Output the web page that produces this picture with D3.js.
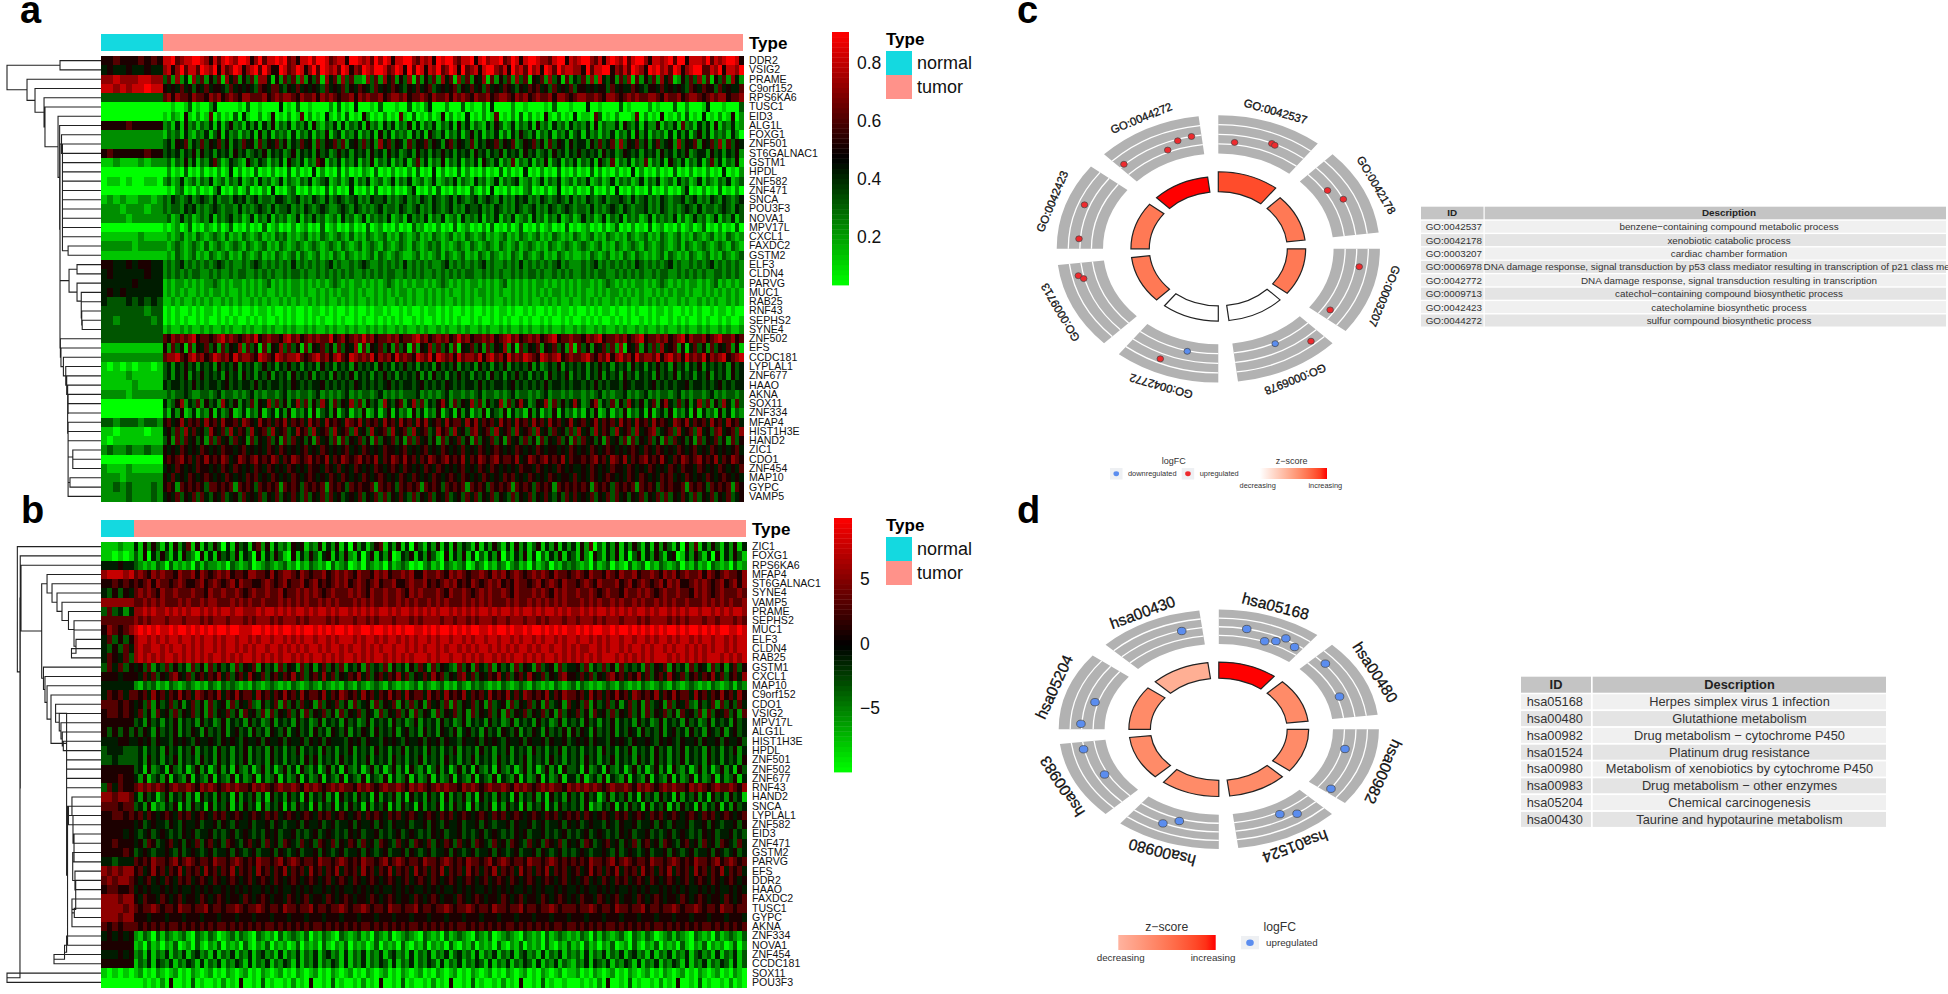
<!DOCTYPE html>
<html>
<head>
<meta charset="utf-8">
<script src="https://cdn.jsdelivr.net/npm/d3@7"></script>
<style>
html, body { margin: 0; padding: 0; background: #fff; overflow: hidden; }
text { font-family: "Liberation Sans", sans-serif; }
</style>
</head>
<body>
<div class="chart"></div>
<script>
// panel a: genes in row order, one digit per sample (0 = lowest, 9 = highest)
const genesA = ['DDR2','VSIG2','PRAME','C9orf152','RPS6KA6','TUSC1','EID3','ALG1L','FOXG1','ZNF501','ST6GALNAC1','GSTM1','HPDL','ZNF582','ZNF471','SNCA','POU3F3','NOVA1','MPV17L','CXCL1','FAXDC2','GSTM2','ELF3','CLDN4','PARVG','MUC1','RAB25','RNF43','SEPHS2','SYNE4','ZNF502','EFS','CCDC181','LYPLAL1','ZNF677','HAAO','AKNA','SOX11','ZNF334','MFAP4','HIST1H3E','HAND2','ZIC1','CDO1','ZNF454','MAP10','GYPC','VAMP5'];
const normalA = ['5565556565','4544544544','7787778877','8878788988','3333333333','0000000000','0000000000','5555655555','2222222222','2222222222','5655555655','1121112122','0000000000','0110100110','0000000000','1212112212','2221222122','2222122222','0000000000','1111112111','2222212222','1111111111','5544545544','4544444544','4444454444','4545444444','4333434343','3333333233','3323333323','3333333333','3333333333','1111111111','2222222222','1010101101','1111211111','1111121111','2222122222','0000000000','0000000000','3323332332','1101111011','1011111111','2322322322','0000000000','2111211111','2221222222','2232322232','2222322232'];
const tumorA = [
'88967889987586898799857968898967588979986788599878697985889976878598997688958978896798589987768995878997685898796899758878969958887968789985',
'78579688698795867985789697559867985796987869857698799867985969858796798596785899768597869785986978877596889957686987598978698578996687958879',
'36272417362536174625362774152636272536174627362217362746253716253627461736254716253627361546273516243627284352637162536274612536372615362742',
'54546453546455436454543654664354645454364546354654364546543546456345456354645364546543546564536454635545455364544654355464545436546553645446',
'67576657665767567657766675676776576675767656675767667567767566765766757676576675677657675676675776567766765776567676677657667567765676775667',
'00100130100240000010300100004010300100002030104000103000100301024000200030100204000020010000103000100040010000301000020100030020001400010003',
'10210510201602010304100201501020160201041020301052010201061030102015020104010201601020302010510201040110630102000160201050102030104010201502',
'23141523132414135231424142513241324152132414132415231424132514132413241524132142531241324152314231423241513224153241422513241623142415132412',
'13231421324135142313241524132314132413251341324132415241323142415324132413524132413142532413241324134142313241324152413231414241352413231420',
'34254624363546352436452635463524364526354636245363527463542635463542563543624354635462354635263542534425363462735463524634527354625463726354',
'34342435253424342534234352434235243425342353424342534253423425342435342434253424352434253423425342435343425342354342434253424352344253424352',
'23132524132463124321532431324153241326513241324132513241324136241325132413241532413261324132513413241324153261324132613241532413241362413251',
'02010301020102014020103010201030201040201030201021030102010203010402010302010201030201040102010301020103020102010402010201030102010201040102',
'23124123132412313241231423124132132412341231241324123124132412312412324132142312413234123124132412313241231241323124132412314231241321324123',
'01023010201024010201301020401023010201030201040102030102010240102030102010310204010201023010201401020103010204010201030102010240102010301020',
'32432342343242332434234233244323423243242343234232433423234232432432342432342343242324342324323432423243234233432423423243233423423243243234',
'32332434232343233242323432423342324323432234324323234233243234232432342324334232432324323423243234323324232343243233423243232343242332343243',
'23124231232413234231241324132312413242312314231241323241231423241324123142324132413241231423132412312423124132413231241323241312423124132413',
'10120130102102013010201030120102012010301201020103012010201031201020103012010203010201301020120103010120102013010201030120102012013010201030',
'12123121321232131213212312132312123121321232131213212312132123121321231213212312123121321231213212132123121321213212312132123121321231213212',
'21232123213123212321321231213212321232123213212312321321232132123231212321321232132123123212132123212321231213212321321232123132123212321321',
'12132123121321231213212312132123132123121321321212313212321123121231321231213213212132132123121321211213212312132132121231321213212312132123',
'23234232323234323223234323232324232323234232232343223232324232323223423232323423223232423232323423222323423232323243232323423223232342323232',
'23232323322323223233223232322323323223232323232232323233223232322323232323322323232232323323223232322323233223232323223233223232323223323232',
'12122121212232121221212123121212212121212321212212121232121212212123212121221212123121212122121212121221212321212122121232121212212123121212',
'12121211212122121121212121121212212112121212212121121212122121121212121121212212121121212121212212121211212122121212112121212212112121212121',
'11212112121211212121121212112121211212121121212112121211212121121212112121211212112121212112121211211212121121212112121212112121121212112121',
'01010010101101001010010110100101001011010100101001011010010100101101010010100101011010010100101011010010101101001010010110100101010010110100',
'01010100101001010100101010010101001010100101001010010101010010100101010100101001010100101001010010100101010010101001010100101010010100101001',
'12112121121211212112121121211212112121121211212112121211212112121121211212112121121211212112121121121211212112121121211212112121121211212112',
'65767678566567867656768567665786756767668567567686756676756678675676756867566767567867567675678566766576785667675678566767567857667567866756',
'52635162546352635472635162547363516254635263547162546352635162547363526154635263547251635462546352716352546362715462536374562514635263546251',
'67786578675687675867765876587677865678675786587676857675867658768587675867768578675867687658767856766786576857867586776857867586768576785678',
'34243534243425343524342353424353424342534243425343425342435342434253435243425342435243435242343524343424353424342534243534253424352434342534',
'34243524353434253425342435243425343524342534352434243534243435242534243534243425342435342434253435243424352434253424342534352434243524342534',
'43443435343443453434435343443435434344534343435434343453434434534343543434435343443453434343534434344343534344354344345343434453443434534344',
'23233432233234233232342323323423233234232323423233234232323334232323423323234233232342332323423323233232342323342323423233234232332342323323',
'42357243625342743524362547363524736253742635473625342743562473624357426354736253472635742354726353474235724362537435246257436352473625374263',
'31425124132514235124132513414251324151342513413251241351423152413251341524132514325142315241325142313142512413251324151342513241514231524132',
'56457465647564755647654756465746564756475654765746564756475647574564756647574656475647564756475645745645746564756475647565476574656475647564',
'45363746453754637465374563745634756374563745637453745637456374563475637453674563745637456374536453637453746537456374567345637456374536745637',
'35263645352636453645263546352636453526453626354635263546352636453526354635263546352645363526354635263645352645362635463526364535263546352635',
'54546545465454655456454546546545456454654545645465454655456454564546545464546545654546545465455454654546545654545654654654546545645465454564',
'56567564657565764576567565764657656756574657656756574657657564657656756574657656756657457656756574655656756476574656756575465765675657465765',
'45465454655454654654546546545465454655465464546545465456546545465465454564546546545454655465454654544546545465546545465454654655465454654546',
'54645465456545465454656454654546545654546546545465456545465465454654565465454654546564546545465455464546545654546546545465645465454654565454',
'56526565653665656265653656562656536565626565365655626565365656265653656562656536565626565365652656565652656536565626565365655626565365656265',
'45463546364354634536454635463546436354636453454635463635464363546354634536463546354363546354643536464546354636453546354636354643635463546345'
];

// panel b
const genesB = ['ZIC1','FOXG1','RPS6KA6','MFAP4','ST6GALNAC1','SYNE4','VAMP5','PRAME','SEPHS2','MUC1','ELF3','CLDN4','RAB25','GSTM1','CXCL1','MAP10','C9orf152','CDO1','VSIG2','MPV17L','ALG1L','HIST1H3E','HPDL','ZNF501','ZNF502','ZNF677','RNF43','HAND2','SNCA','LYPLAL1','ZNF582','EID3','ZNF471','GSTM2','PARVG','EFS','DDR2','HAAO','FAXDC2','TUSC1','GYPC','AKNA','ZNF334','NOVA1','ZNF454','CCDC181','SOX11','POU3F3'];
const normalB = ['111211','110101','444544','788878','556565','435354','777777','363424','666666','576567','463535','435364','465463','364635','555455','444444','465646','666565','566565','555555','535353','444554','344433','334333','555555','555655','364655','776776','666566','556656','555555','555545','556555','555565','443444','767677','676776','566556','777677','777767','777677','656566','454545','555555','444545','555555','101010','000000'];
const tumorB = [
'41525314152461514253041534156251423154513251425140524135614251405314251415243151425314152413514251424152603142514253141525314052614253142514',
'31504253141532051415342514305142531051425314514252140351425014351425310514251403142503142514031425143152053142514035142531450142531405142531',
'32121320312120313221203212301232123120213212031230120321203123201023120321230132021320231203123021323212031230210312302132123021312032120312',
'67657676657667576567675665776657567765765667567676576657675667675576676576765667657675676567676576656765766576576675667657675676675765676657',
'65675766567655675676567576655676567566756756567675676567566755676675656767565765676756576656756765766567657666756756765675767556767656756757',
'67676576676667665766766765676676675667676765676667676576676676576766676576676567676676576667676576766766765676657667676567667665767656766676',
'66767676667676676776667676766766676767676676767666767676676676767667676766676767676667676676767676766676767667676676766767676676667676767667',
'77878778787878878787887887778788787878878788787887878787887878878787878878787878878788787887878878787787878878787878878788787878878878787887',
'76767776777677767677767776767776767776767777676777677676777677767677776776776767776776777677676777677677767677767776767777676767776776777676',
'89898988989989898989989988899898989989899898989989889989989898998898989989898998898998988989989898988989899889899898989898998989989898998898',
'78878787887887878878788788787887887878788788787888787887878878787887878878878788788788787887878878788788787878878878878788787887878878878788',
'78778878788787878878788787878878878787878878788787887878788788787878878788787878878787878878788788787877887878878788787887878878787878878788',
'78787878878787878788787878878787878878787887878788787878878787878887878878878787887878788787878878787878787888787878787888787878787888787878',
'45362436353426352635342635462534263542635246353624352634362534253642635432635264362534263542634526344536243635263434263546253426354263524635',
'54646354675463564657463564754635646574635647463546574635646574635464756354674635465746356475463546755464635467564657463564754635646574635647',
'21323121321232121321323212132123212132123213212132132123213212123132123121321323212132123213212132123132121232132121321232132123212132123132',
'65647564657564765657465756647564657564756657465765647564657564756647564756574656475657464765657465766564756465756476565746575664756465756475',
'45362534635246352634526354632534626353645263546352634526354625363526453626354635263452635463526345264536253463524635263452635463253462635364',
'46352645363546352635463526453626354635263546352635463542635463526354263546352635463526354635463526354635264536354635263546352645362635463526',
'34253424352434253423524342534235243425342352434253423524342534235243425342352434253423524342534235243425342435243425342352434253423524342534',
'53542534352435425343524534253425435245342534254352435425343524534253425435245342534254352435425343525354253435243542534352453425342543524534',
'45453544354543544543545435445354453544535453544435453544354543544535453544354453545435445354453544534545354435454354454354543544535445354453',
'34243425342435243425342435243425342435243425342435243425342435243425342435243425342435243425342435243424342534243524342534243524342534243524',
'34253424352434253425342435243425342434253524342534243524342534243524342534243524342534243524342534243425342435243425342534243524342534243425',
'34152341532413524135241532413524135241532413524153241352413524153241352413524153241532413524135241533415234153241352413524153241352413524153',
'42513425143251432514325142351423514235142351432514325143251423514235142351432514325143251423514235144251342514325143251432514235142351423514',
'67676765676676576765676766576765676676576765676766576765676676576765676766576765676676576765676766576767676567667657676567676657676567667657',
'42534135243524153425341524352415342534152435241534253415243524153425341524352415342534152435241534253425341352435241534253415243524153425341',
'34251324351425341524351425341524351425341524351425341524351425341524351425341524351425341524351425343425132435142534152435142534152435142534',
'56465456546564565465645654565465645654565465645654564656546564565456546564565456546564565456546564565646545654656456546564565456546564565456',
'45345443543544534453543544534453543445354453453445354453543544534453543544534453543445354453453445354534544354354453445354354453445354344535',
'43453454343545344534345345434354534453434534543435453445343453454343545344534345345434354534453434534345345434354534453434534543435453445343',
'45365345645354635645365435645364536543645365463546536453654364536546354653645365436453654364536546354536534564535463564536543564536453654364',
'34543445435345434534453543453445354345344535434534453543453445354345344535434534453543453445354345343454344543534543453445354345344535434534',
'65657665675676566576656765657665675676566576656765657665675676566576656765657665675676566576656765656565766567567656657665676565766567567656',
'56457564657465647564657465647564657465647564657465647564657465647564657465647564657465647564657465645645756465746564756465746564756465746564',
'54564546546564565465456545645654654565456545645654654565456545645654654565456545645654654565456545645456454654656456546545654564565465456545',
'45454454545445454544545454544545454454545445454544545454544545454454545445454544545454544545454454544545445454544545454454545454454545445454',
'54655465456455465456545546545654554654564554654565455465456545546545654554654565455465456455465456545465546545645546545654554654565455465456',
'65667656657665667566566765667656657665667566566765667656657665667566566765667656657665667566566765666566765665766566756656676566765665766566',
'55545554555455545554555455545554555455545554555455545554555455545554555455545554555455545554555455545554555455545554555455545554555455545554',
'65656565665656565656656565656566565656565665656565656656565656566565656565665656565656656565656566566565656566565656565665656565656656565656',
'21320313212310321320123132103212031232130213210321231203213012321032120312321032130123210321203123212132031321231032132012313210321203123213',
'12031202130120310213021203102130212013021203102130212013021203102130212031021302120310213021203102131203120213012031021302120310213021201302',
'23141324132413423141324132413423141324132413423141324132413423141324132413423141324132413423141324132314132413241342314132413241342314132413',
'13241432413243141324132431413241324314132413243141324132431413241324314132413243141324132431413241321324143241324314132413243141324132431413',
'12010210120102101201021012010210120102101201021012010210120102101201021012010210120102101201021012011201021012010210120102101201021012010210',
'00101020500103010010201050010301001020105001030100102010500103010010201050010301001020105001030100100010102050010301001020105001030100102010'
];

const typeColors = {normal: '#14d9e0', tumor: '#ff928a'};
const typeNames = ['normal', 'tumor'];

// dendrograms: [merge height, upper child, lower child], 0 is a leaf.
// chain() stacks leaves one under the other, most rows in these trees merge that way
const chain = (heights, end) => heights.reduceRight((acc, h) => [h, 0, acc], end);

const upperA = chain([42, 41, 41, 41, 41, 41, 41, 41, 41, 41, 41, 41], [35, 0, 0]);
const elfA = [34, [25.5, 0, 0], chain([25.5, 21, 21, 20.5], [20, 0, 0])];
const lowerA = chain([43.2, 42.6, 40, 37.5, 36.5, 35.5, 35, 35.5, 35.5, 35, 35, 35],
  [35, [30, 0, [30, 0, 0]], [35, [33, 0, 0], 0]]);
const treeA = [100, [43.6, 0, 0],
  chain([78.7, 70.2, 60.6, 59.6, 45.7, 44], [43.6, upperA, [43.6, elfA, lowerA]])];

const groupB1 = chain([57.4, 52.1, 46.8, 41.5, 34.6, 28.7, 28.7, 26.6], [31.4, 0, 0]);
const upperB = chain([48.3, 44.4, 42.6, 41.2], [40.1, 0, 0]);
const middleB = chain([30.9, 34.6, 29.8, 29.8, 28.7, 28.7, 30.1, 30.1, 27.7, 26.9, 26.9],
  [30.9, 0, [30.9, [28.4, 0, 0], 0]]);
const tailB = chain([36.6, 38.8], [50, 0, 0]);
const lowerB = chain([36.6, 36.6, 36.6, 36.6], [35.6, middleB, tailB]);
const groupB2 = chain([61.2, 59.6, 57.4, 53.2], [36.6, upperB, lowerB]);
const treeB = [89, 0, [85.9, 0, [86.2, [85.1, 0, [63.1, groupB1, groupB2]], [100, 0, 0]]]];

// enrichment circles
const goIds = ['GO:0042537','GO:0042178','GO:0003207','GO:0006978','GO:0042772','GO:0009713','GO:0042423','GO:0044272'];
const goDesc = ['benzene\u2212containing compound metabolic process','xenobiotic catabolic process','cardiac chamber formation','DNA damage response, signal transduction by p53 class mediator resulting in transcription of p21 class mediator','DNA damage response, signal transduction resulting in transcription','catechol\u2212containing compound biosynthetic process','catecholamine biosynthetic process','sulfur compound biosynthetic process'];
const goZ = [0.86, 0.68, 0.68, 0, 0, 0.68, 0.68, 1];
const goBar = [1, 0.76, 0.76, 0.76, 0.76, 0.76, 0.76, 0.76];
const goGenes = [
  [[.19,1.24,'up'],[.6,1.97,'up'],[.64,1.9,'up']],
  [[.32,1.27,'up'],[.51,2.02,'up']],
  [[.23,2.36,'up'],[.88,1.62,'up']],
  [[.14,2.58,'up'],[.49,1.1,'down']],
  [[.37,1.08,'down'],[.62,2.58,'up']],
  [[.84,2.45,'up'],[.79,2.08,'up']],
  [[.13,2.12,'up'],[.57,2.48,'up']],
  [[.06,2.06,'up'],[.58,1.24,'up'],[.73,1.85,'up'],[.89,2.0,'up']]
];
const hsaIds = ['hsa05168','hsa00480','hsa00982','hsa01524','hsa00980','hsa00983','hsa05204','hsa00430'];
const hsaDesc = ['Herpes simplex virus 1 infection','Glutathione metabolism','Drug metabolism \u2212 cytochrome P450','Platinum drug resistance','Metabolism of xenobiotics by cytochrome P450','Drug metabolism \u2212 other enzymes','Chemical carcinogenesis','Taurine and hypotaurine metabolism'];
const hsaZ = [1, 0.6, 0.6, 0.6, 0.6, 0.6, 0.6, 0.42];
const hsaBar = [0.9, 0.9, 0.9, 0.9, 0.9, 0.9, 0.9, 0.9];
const hsaGenes = [
  [[.31,1.99,'up'],[.56,1.06,'up'],[.68,1.46,'up'],[.76,2.15,'up'],[.91,1.69,'up']],
  [[.145,2.08,'up'],[.66,1.24,'up']],
  [[.31,1.28,'up'],[.93,2.03,'up']],
  [[.27,2.02,'up'],[.44,1.28,'up']],
  [[.47,1.28,'up'],[.63,2.05,'up']],
  [[.45,1.31,'up'],[.89,2.06,'up']],
  [[.08,2.08,'up'],[.43,1.29,'up']],
  [[.77,1.95,'up']]
];

const W = 1948, H = 994;
const svg = d3.select('.chart').append('svg')
  .attr('width', W).attr('height', H).style('display', 'block');

function heatPanel(o) {
  const g = svg.append('g');
  const y = d3.scaleBand().domain(o.genes).range([o.top, o.bottom]);
  const colorBar = d3.scaleLinear().domain(o.domain).range([o.barBottom, o.barTop]);
  const mid = (o.domain[0] + o.domain[1]) / 2;
  const color = d3.scaleLinear().domain([o.domain[0], mid, o.domain[1]]).range(['#00ff00', '#000000', '#ff0000']);
  const val = d3.scaleLinear().domain([0, 9]).range(o.domain);

  // annotation bar
  g.append('rect').attr('x', o.left).attr('y', o.annTop).attr('width', o.split - o.left).attr('height', o.annH).attr('fill', typeColors.normal);
  g.append('rect').attr('x', o.split).attr('y', o.annTop).attr('width', o.right - o.split).attr('height', o.annH).attr('fill', typeColors.tumor);
  g.append('text').attr('x', o.right + 6).attr('y', o.annBase).attr('font-size', 17).attr('font-weight', 700).text('Type');

  // cells
  const cells = g.append('g').style('filter', 'blur(0.5px)').attr('shape-rendering', 'crispEdges');
  o.genes.forEach((gene, i) => {
    [[o.normal[i], o.left, o.split], [o.tumor[i], o.split, o.right]].forEach(([row, x0, x1]) => {
      const x = d3.scaleLinear().domain([0, row.length]).range([x0, x1]);
      cells.append('g').selectAll('rect').data(row.split('')).join('rect')
        .attr('x', (d, j) => x(j))
        .attr('y', y(gene))
        .attr('width', (d, j) => x(j + 1) - x(j) + 0.5)
        .attr('height', y.bandwidth() + 0.5)
        .attr('fill', d => color(val(+d)));
    });
  });

  // row labels
  g.append('g').attr('transform', `translate(${o.right},0)`)
    .call(d3.axisRight(y).tickSize(0).tickPadding(6))
    .call(a => a.select('.domain').remove())
    .selectAll('text').attr('font-size', 10.6).attr('font-family', '"Liberation Sans"').attr('fill', '#111');

  // dendrogram
  const dx = d3.scaleLinear().domain([0, 100]).range([o.left, 7]);
  const root = d3.hierarchy(o.tree, d => Array.isArray(d) ? [d[1], d[2]] : null);
  const leaves = root.leaves();
  leaves.forEach((l, i) => { l.py = y(o.genes[i]) + y.bandwidth() / 2; });
  root.eachAfter(n => { if (n.children) n.py = (n.children[0].py + n.children[1].py) / 2; });
  const hx = n => n.children ? dx(n.data[0]) : o.left;
  const p = d3.path();
  root.each(n => {
    if (!n.children) return;
    const [a, b] = n.children;
    p.moveTo(hx(a), a.py); p.lineTo(hx(n), a.py); p.lineTo(hx(n), b.py); p.lineTo(hx(b), b.py);
  });
  g.append('path').attr('d', p.toString()).attr('fill', 'none').attr('stroke', '#222').attr('stroke-width', 1.1);

  // colour bar, 50 steps like pheatmap
  const steps = d3.range(50).map(i => o.domain[0] + (i + 0.5) * (o.domain[1] - o.domain[0]) / 50);
  const stepH = (o.barBottom - o.barTop) / 50;
  g.append('g').selectAll('rect').data(steps).join('rect')
    .attr('x', o.barX).attr('width', o.barW)
    .attr('y', d => colorBar(d) - stepH / 2).attr('height', stepH + 0.4)
    .attr('fill', d => color(d));
  g.append('g').attr('transform', `translate(${o.barX + o.barW},0)`)
    .call(d3.axisRight(colorBar).tickValues(o.ticks).tickFormat(d3.format(o.fmt)).tickSize(0).tickPadding(8))
    .call(a => a.select('.domain').remove())
    .selectAll('text').attr('font-size', 17.5).attr('font-family', '"Liberation Sans"').attr('fill', '#111');

  // type legend
  g.append('text').attr('x', 886).attr('y', o.legBase).attr('font-size', 17).attr('font-weight', 700).text('Type');
  const ly = d3.scaleBand().domain(typeNames).range([o.legTop, o.legTop + 48]);
  g.append('g').selectAll('rect').data(typeNames).join('rect')
    .attr('x', 886).attr('width', 26).attr('y', d => ly(d)).attr('height', ly.bandwidth())
    .attr('fill', d => typeColors[d]);
  g.append('g').selectAll('text').data(typeNames).join('text')
    .attr('x', 917).attr('y', d => ly(d) + ly.bandwidth() / 2).attr('dy', '.35em')
    .attr('font-size', 18).attr('fill', '#111').text(d => d);
}

heatPanel({
  genes: genesA, normal: normalA, tumor: tumorA, tree: treeA,
  left: 101, split: 163, right: 743, top: 56, bottom: 501,
  annTop: 34, annH: 17, annBase: 49,
  barX: 832, barW: 17, barTop: 32, barBottom: 285, domain: [0.034, 0.907], ticks: [0.2, 0.4, 0.6, 0.8], fmt: '.1f',
  legBase: 45, legTop: 51
});
heatPanel({
  genes: genesB, normal: normalB, tumor: tumorB, tree: treeB,
  left: 101, split: 134, right: 746, top: 542, bottom: 987,
  annTop: 520, annH: 17, annBase: 535,
  barX: 834, barW: 18, barTop: 518, barBottom: 772, domain: [-9.96, 9.73], ticks: [-5, 0, 5], fmt: 'd',
  legBase: 531, legTop: 537
});

function circlePanel(o) {
  const g = svg.append('g');
  const ang = d3.scaleLinear().domain([0, 8]).range([0, 2 * Math.PI]);
  const span = 38 * Math.PI / 180;
  const R = 1000;
  const rLfc = d3.scaleLinear().domain([0, 4]).range([0.7115, 0.9975]);
  const rBar = d3.scaleLinear().domain([0, 1]).range([0.426, 0.575]);
  const zCol = d3.scaleLinear().domain([0, 1]).range(['#ffffff', '#ff0000']).interpolate(d3.interpolateLab);
  const polar = (a, r) => [o.cx + o.rx * r * Math.sin(a), o.cy - o.ry * r * Math.cos(a)];
  const plane = g.append('g').attr('transform', `translate(${o.cx},${o.cy}) scale(${o.rx / R},${o.ry / R})`);
  const arc = d3.arc();

  o.ids.forEach((id, i) => {
    const a0 = ang(i), a1 = a0 + span;
    plane.append('path')
      .attr('d', arc({innerRadius: rLfc(0) * R, outerRadius: rLfc(4) * R, startAngle: a0, endAngle: a1}))
      .attr('fill', '#b2b2b2');
    [1, 2, 3].forEach(v => {
      plane.append('path')
        .attr('d', arc({innerRadius: rLfc(v) * R, outerRadius: rLfc(v) * R, startAngle: a0, endAngle: a1}))
        .attr('fill', 'none').attr('stroke', '#fff').attr('stroke-width', 1.3)
        .attr('vector-effect', 'non-scaling-stroke');
    });
    plane.append('path')
      .attr('d', arc({innerRadius: rBar(0) * R, outerRadius: rBar(o.bar[i]) * R, startAngle: a0, endAngle: a1}))
      .attr('fill', zCol(o.z[i])).attr('stroke', '#222').attr('stroke-width', 1.2)
      .attr('vector-effect', 'non-scaling-stroke');

    g.append('g').selectAll('ellipse').data(o.genes[i]).join('ellipse')
      .attr('cx', d => polar(a0 + d[0] * span, rLfc(d[1]))[0])
      .attr('cy', d => polar(a0 + d[0] * span, rLfc(d[1]))[1])
      .attr('rx', o.dotX).attr('ry', o.dotY)
      .attr('fill', d => d[2] === 'up' ? o.upCol : '#5b8def')
      .attr('stroke', '#444').attr('stroke-width', 0.7);

    const am = a0 + span / 2;
    const [tx, ty] = polar(am, 1.085);
    const rot = Math.atan2(o.ry * Math.sin(am), o.rx * Math.cos(am)) * 180 / Math.PI;
    g.append('text').attr('transform', `translate(${tx},${ty}) rotate(${rot})`)
      .attr('text-anchor', 'middle').attr('dy', '.35em')
      .attr('font-size', o.labelSize).attr('fill', '#111')
      .attr('stroke', '#111').attr('stroke-width', 0.3).text(id);
  });
}

circlePanel({cx: 1218.3, cy: 248.8, rx: 162, ry: 134, ids: goIds, z: goZ, bar: goBar, genes: goGenes, dotX: 3.3, dotY: 3, upCol: '#ee2a2e', labelSize: 11.4});
circlePanel({cx: 1218.8, cy: 729.3, rx: 160.5, ry: 120, ids: hsaIds, z: hsaZ, bar: hsaBar, genes: hsaGenes, dotX: 4.3, dotY: 3.7, upCol: '#5b8def', labelSize: 15.6});

function descTable(o) {
  const g = svg.append('g');
  const rowY = d3.scaleLinear().domain([0, 1]).range([o.rowTop, o.rowTop + o.step]);
  g.append('rect').attr('x', o.idX).attr('y', o.headTop).attr('width', o.idW).attr('height', o.headH).attr('fill', '#c4c4c4');
  g.append('rect').attr('x', o.descX).attr('y', o.headTop).attr('width', o.descW).attr('height', o.headH).attr('fill', '#c4c4c4');
  const head = (x, t) => g.append('text').attr('x', x).attr('y', o.headTop + o.headH / 2).attr('dy', '.35em')
    .attr('text-anchor', 'middle').attr('font-size', o.size).attr('font-weight', 700).attr('fill', '#222').text(t);
  head(o.idX + o.idW / 2, 'ID');
  head(o.descMid, 'Description');
  o.ids.forEach((id, i) => {
    const fill = i % 2 ? '#e4e4e4' : '#f0f0f0';
    g.append('rect').attr('x', o.idX).attr('y', rowY(i)).attr('width', o.idW).attr('height', o.rowH).attr('fill', fill);
    g.append('rect').attr('x', o.descX).attr('y', rowY(i)).attr('width', o.descW).attr('height', o.rowH).attr('fill', fill);
    g.append('text').attr('x', o.idText).attr('y', rowY(i) + o.rowH / 2).attr('dy', '.35em')
      .attr('font-size', o.size).attr('fill', '#333').text(id);
    g.append('text').attr('x', o.descMid).attr('y', rowY(i) + o.rowH / 2).attr('dy', '.35em')
      .attr('text-anchor', 'middle').attr('font-size', o.size).attr('fill', '#333').text(o.desc[i]);
  });
}
descTable({ids: goIds, desc: goDesc, idX: 1421, idW: 62.5, descX: 1484.7, descW: 461.3, descMid: 1729, idText: 1425.7,
  headTop: 206.7, headH: 12.6, rowTop: 220.7, rowH: 12, step: 13.4, size: 9.85});
descTable({ids: hsaIds, desc: hsaDesc, idX: 1521, idW: 70, descX: 1592.7, descW: 293.3, descMid: 1739.5, idText: 1526.7,
  headTop: 676.7, headH: 16, rowTop: 694.3, rowH: 15, step: 16.8, size: 12.8});

function circleLegend(o) {
  const g = svg.append('g');
  const label = (x, y, t, size, anchor) => g.append('text').attr('x', x).attr('y', y).attr('dy', '.35em')
    .attr('text-anchor', anchor || 'middle').attr('font-size', size).attr('fill', '#333').text(t);
  label(o.lfcX, o.titleY, 'logFC', o.titleSize);
  o.keys.forEach(k => {
    g.append('rect').attr('x', k.x).attr('y', o.keyY).attr('width', o.keyW).attr('height', o.keyH).attr('fill', '#eef0f3');
    g.append('ellipse').attr('cx', k.x + o.keyW / 2).attr('cy', o.keyY + o.keyH / 2)
      .attr('rx', o.dot).attr('ry', o.dot * 0.85).attr('fill', k.col);
    label(k.x + o.keyW + o.keyGap, o.keyY + o.keyH / 2, k.t, o.keySize, 'start');
  });
  label(o.zX, o.titleY, 'z\u2212score', o.titleSize);
  const id = 'grad' + Math.round(o.zX);
  const grad = svg.append('linearGradient').attr('id', id);
  d3.range(0, 1.01, 0.1).forEach(t => {
    grad.append('stop').attr('offset', t)
      .attr('stop-color', d3.interpolateLab(o.gradFrom, '#ff0000')(t));
  });
  g.append('rect').attr('x', o.gradX).attr('y', o.gradY).attr('width', o.gradW).attr('height', o.gradH).attr('fill', `url(#${id})`);
  label(o.decX, o.endY, 'decreasing', o.endSize);
  label(o.incX, o.endY, 'increasing', o.endSize);
}
circleLegend({lfcX: 1173.7, zX: 1291.7, titleY: 461, titleSize: 9,
  keys: [{x: 1110, t: 'downregulated', col: '#5b8def'}, {x: 1181.7, t: 'upregulated', col: '#ee2a2e'}],
  keyY: 468, keyW: 12.5, keyH: 11.5, keyGap: 5.5, keySize: 7.4, dot: 2.8,
  gradX: 1260, gradY: 468, gradW: 67, gradH: 11, gradFrom: '#ffffff', decX: 1257.7, incX: 1325.3, endY: 485.7, endSize: 7.4});
circleLegend({lfcX: 1279.7, zX: 1166.7, titleY: 926.7, titleSize: 12.2,
  keys: [{x: 1241, t: 'upregulated', col: '#5b8def'}],
  keyY: 936, keyW: 18, keyH: 13.3, keyGap: 7, keySize: 9.8, dot: 3.8,
  gradX: 1118.3, gradY: 935, gradW: 97.4, gradH: 15, gradFrom: '#ffb39f', decX: 1120.7, incX: 1213, endY: 957.3, endSize: 9.8});

// panel letters
[['a', 20, 23], ['b', 21, 523], ['c', 1017, 23], ['d', 1017, 523]].forEach(([t, x, y]) => {
  svg.append('text').attr('x', x).attr('y', y).attr('font-size', 38).attr('font-weight', 700).attr('fill', '#000').text(t);
});
</script>
</body>
</html>
